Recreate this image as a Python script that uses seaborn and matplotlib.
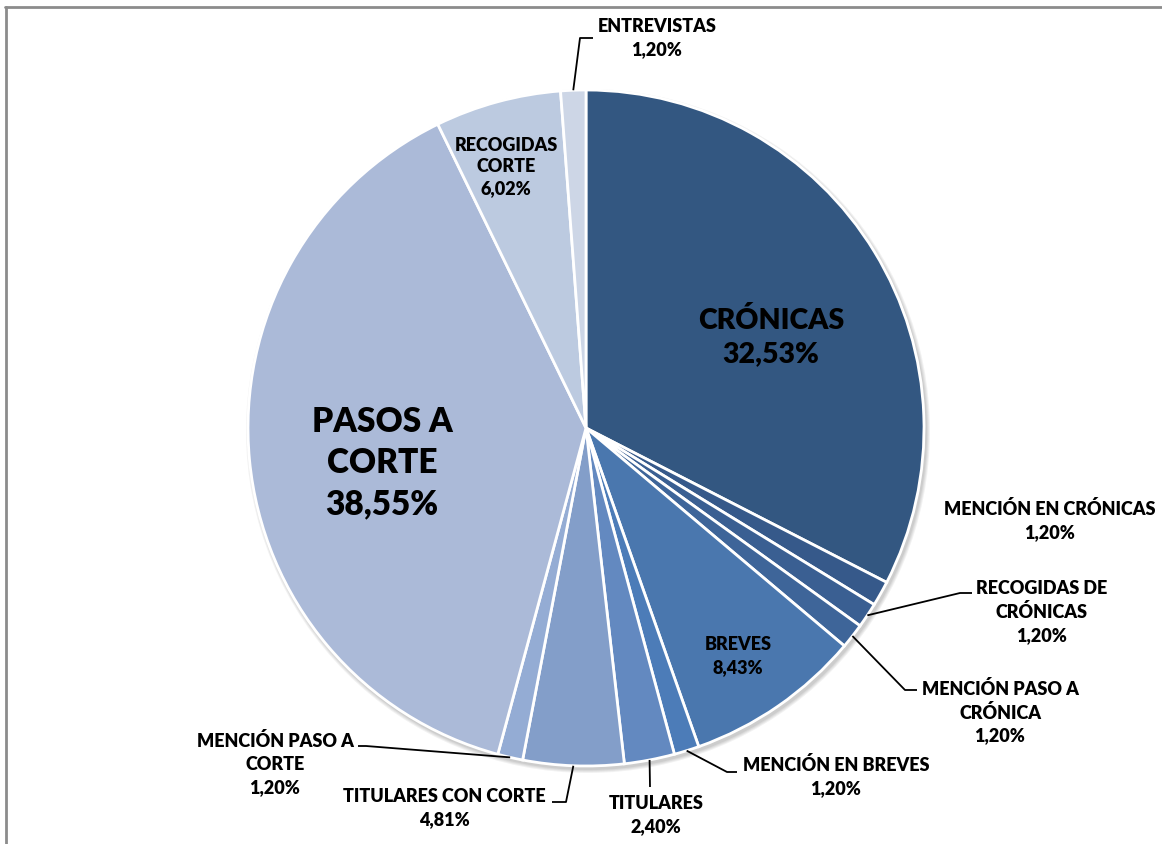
import numpy as np
import matplotlib
matplotlib.use("Agg")
import matplotlib.pyplot as plt
from matplotlib.patches import Circle
from matplotlib.lines import Line2D
import seaborn as sns

categories = ["CRÓNICAS", "MENCIÓN EN CRÓNICAS", "RECOGIDAS DE\nCRÓNICAS",
              "MENCIÓN PASO A\nCRÓNICA", "BREVES", "MENCIÓN EN BREVES",
              "TITULARES", "TITULARES CON CORTE", "MENCIÓN PASO A\nCORTE",
              "PASOS A\nCORTE", "RECOGIDAS\nCORTE", "ENTREVISTAS"]
values = [32.53, 1.20, 1.20, 1.20, 8.43, 1.20, 2.40, 4.81, 1.20, 38.55, 6.02, 1.20]
pct_labels = ["32,53%", "1,20%", "1,20%", "1,20%", "8,43%", "1,20%",
              "2,40%", "4,81%", "1,20%", "38,55%", "6,02%", "1,20%"]
colors = ["#335781", "#36598a", "#3a5f92", "#3e6599", "#4a77ae", "#4c7cb8",
          "#6389c0", "#839ec9", "#94acd4", "#abbad8", "#bccae0", "#cdd6e6"]

sns.set_theme(style="white")
plt.rcParams['font.family'] = ['Lato', 'DejaVu Sans']

W, H = 1162, 844
fig = plt.figure(figsize=(W / 100, H / 100), dpi=100)
ax = fig.add_axes([0, 0, 1, 1])

cx, cy, R = 586, H - 428, 338

# soft shadow
for i, a in enumerate([0.05, 0.05, 0.05, 0.06]):
    ax.add_patch(Circle((cx + 2, cy - 3), R + 4 - i, color="#000000", alpha=a, lw=0, zorder=0))

wedges, _ = ax.pie(values, colors=colors, startangle=90, counterclock=False,
                   center=(cx, cy), radius=R,
                   wedgeprops=dict(edgecolor="white", linewidth=2))
for w in wedges:
    w.set_zorder(1)

ax.set_xlim(0, W)
ax.set_ylim(0, H)
ax.set_aspect("equal")
ax.axis("off")

SMALL = 13
# label placement (pixel coords, text center), font size, line spacing in px
placements = {
    0: ((771, 337), 20.5, 37),
    1: ((1050, 521), SMALL, 26),
    2: ((1042, 612), SMALL, 25.5),
    3: ((1000, 712), SMALL, 25.5),
    4: ((738, 656), SMALL, 25),
    5: ((836, 777), SMALL, 26),
    6: ((656, 815), SMALL, 26),
    7: ((444, 808), SMALL, 25),
    8: ((275, 764), SMALL, 25.5),
    9: ((382, 463), 24, 45),
    10: ((506, 167), SMALL, 24.5),
    11: ((657, 38), SMALL, 26),
}
for i, ((x, y), fs, sp) in placements.items():
    txt = categories[i] + "\n" + pct_labels[i]
    ax.text(x, H - y, txt, ha="center", va="center", fontsize=fs,
            fontweight="heavy", color="black", linespacing=sp / (fs * 100 / 72), zorder=5)

# leader lines: start at wedge outer mid-point, then to label
total = sum(values)
cum = np.cumsum([0] + values[:-1])
def edge_point(i, r=R):
    theta = np.deg2rad(90 - 360 * (cum[i] + values[i] / 2) / total)
    return cx + r * np.cos(theta), cy + r * np.sin(theta)

leaders = {
    2: [(960, 593), (972, 593)],
    3: [(905, 690), (917, 690)],
    5: [(727, 772), (737, 772)],
    6: [(650, 787)],
    7: [(566, 802), (552, 802)],
    8: [(366, 746), (358, 746)],
    11: [(580, 38), (593, 38)],
}
for i, pts in leaders.items():
    sx, sy = edge_point(i)
    xs = [sx] + [p[0] for p in pts]
    ys = [sy] + [H - p[1] for p in pts]
    ax.plot(xs, ys, color="black", lw=1.3, zorder=4, solid_capstyle="butt")

# chart-area border (partially cropped in reference)
fig.add_artist(Line2D([5 / W, 1.0], [(H - 7) / H, (H - 7) / H], color="#8c8c8c", lw=2,
                      transform=fig.transFigure))
fig.add_artist(Line2D([6 / W, 6 / W], [(H - 7) / H, 0], color="#8c8c8c", lw=2,
                      transform=fig.transFigure))

fig.savefig("out.png", dpi=100)
